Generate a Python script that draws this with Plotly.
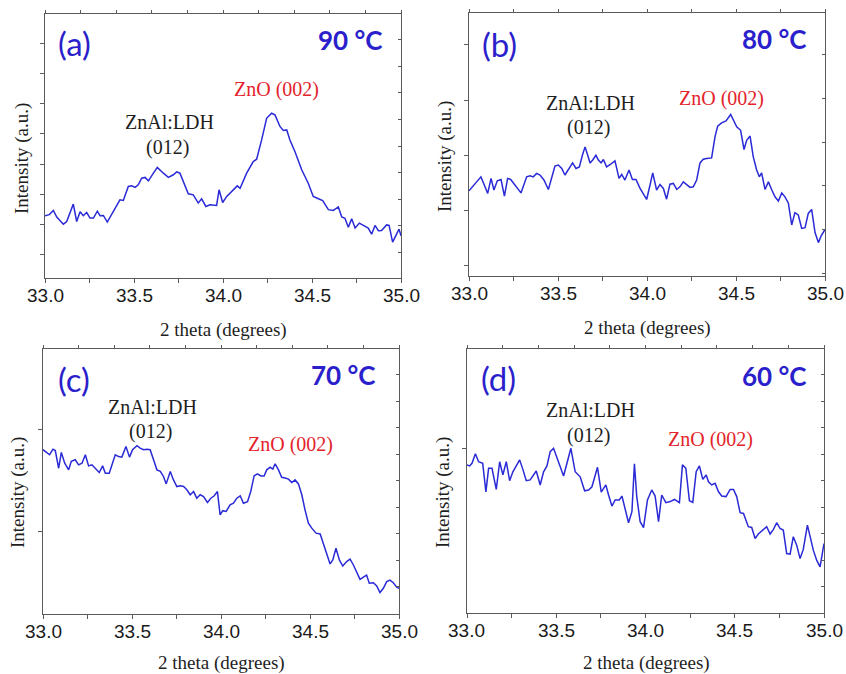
import plotly.graph_objects as go

# ---------------- data ----------------
theta_a = [33.000, 33.024, 33.047, 33.066, 33.103, 33.122, 33.159, 33.178, 33.197, 33.215,
           33.234, 33.253, 33.272, 33.294, 33.309, 33.328, 33.350, 33.384, 33.421, 33.440,
           33.468, 33.487, 33.506, 33.524, 33.543, 33.562, 33.581, 33.609, 33.631, 33.665,
           33.693, 33.721, 33.740, 33.758, 33.783, 33.805, 33.833, 33.861, 33.880, 33.904,
           33.927, 33.964, 33.978, 33.998, 34.021, 34.058, 34.080, 34.096, 34.133, 34.170,
           34.189, 34.217, 34.245, 34.273, 34.292, 34.320, 34.339, 34.358, 34.376, 34.404,
           34.442, 34.479, 34.507, 34.536, 34.560, 34.592, 34.620, 34.648, 34.667, 34.685,
           34.704, 34.723, 34.742, 34.766, 34.788, 34.816, 34.835, 34.854, 34.873, 34.891,
           34.919, 34.933, 34.953, 34.976, 34.989, 35.000]
int_a = [23.6, 24.0, 25.6, 23.1, 20.4, 21.4, 28.0, 21.4, 25.1, 23.6,
         24.8, 22.7, 22.7, 25.3, 23.6, 23.7, 21.2, 25.1, 29.6, 29.4,
         34.7, 34.9, 34.3, 35.3, 37.8, 38.1, 36.8, 39.7, 41.9, 39.7,
         38.1, 39.1, 40.2, 39.7, 35.9, 31.9, 31.5, 28.4, 30.0, 27.1,
         27.7, 27.5, 33.4, 28.6, 30.9, 33.4, 34.9, 34.0, 39.7, 44.1,
         45.0, 52.3, 60.5, 62.4, 61.8, 57.4, 55.9, 56.1, 52.3, 47.9,
         41.0, 35.9, 30.9, 30.0, 29.3, 25.9, 25.6, 26.9, 23.1, 22.6,
         19.2, 22.4, 18.9, 20.8, 19.9, 18.9, 16.6, 19.9, 17.9, 18.0,
         20.1, 19.9, 13.6, 17.0, 18.5, 16.0]

theta_b = [33.000, 33.034, 33.067, 33.090, 33.105, 33.124, 33.140, 33.159, 33.180, 33.199,
           33.217, 33.234, 33.268, 33.292, 33.324, 33.343, 33.361, 33.380, 33.399, 33.421,
           33.446, 33.464, 33.483, 33.502, 33.521, 33.539, 33.558, 33.582, 33.601, 33.620,
           33.637, 33.652, 33.667, 33.680, 33.695, 33.713, 33.727, 33.742, 33.755, 33.773,
           33.796, 33.820, 33.843, 33.858, 33.876, 33.899, 33.918, 33.938, 33.961, 33.979,
           33.998, 34.017, 34.032, 34.054, 34.073, 34.092, 34.110, 34.129, 34.148, 34.167,
           34.185, 34.204, 34.223, 34.242, 34.260, 34.279, 34.298, 34.316, 34.335, 34.363,
           34.382, 34.397, 34.419, 34.444, 34.470, 34.489, 34.504, 34.526, 34.545, 34.560,
           34.579, 34.597, 34.616, 34.631, 34.644, 34.663, 34.682, 34.700, 34.719, 34.738,
           34.757, 34.775, 34.794, 34.813, 34.831, 34.850, 34.869, 34.888, 34.906, 34.925,
           34.944, 34.963, 34.978, 35.000]
int_b = [32.4, 35.2, 37.7, 33.9, 31.4, 37.1, 32.7, 36.2, 36.7, 30.4,
         37.1, 36.7, 33.9, 31.6, 37.7, 38.1, 37.7, 39.0, 38.4, 36.5,
         32.9, 37.7, 41.8, 42.2, 40.9, 38.4, 40.3, 43.0, 40.9, 41.5,
         45.9, 49.1, 45.9, 43.0, 44.1, 45.9, 44.1, 43.0, 44.3, 41.5,
         42.5, 43.8, 37.1, 38.6, 36.5, 40.3, 36.7, 36.7, 33.3, 31.4,
         29.1, 34.6, 39.2, 32.7, 34.8, 33.3, 29.2, 34.9, 35.2, 32.9,
         33.9, 35.8, 34.9, 33.7, 33.9, 36.5, 43.0, 44.4, 44.7, 44.9,
         52.9, 57.0, 58.2, 59.0, 61.4, 59.0, 56.7, 55.4, 48.1, 51.6,
         53.2, 45.3, 40.3, 37.7, 39.2, 32.9, 35.8, 32.9, 30.1, 28.5,
         31.6, 30.1, 27.8, 19.4, 24.1, 23.2, 18.1, 18.4, 23.8, 25.3,
         16.5, 12.7, 15.2, 17.7]

theta_c = [33.000, 33.019, 33.037, 33.056, 33.069, 33.088, 33.103, 33.122, 33.144, 33.159,
           33.181, 33.200, 33.219, 33.238, 33.256, 33.275, 33.294, 33.316, 33.335, 33.350,
           33.372, 33.387, 33.406, 33.425, 33.443, 33.466, 33.486, 33.503, 33.528, 33.546,
           33.565, 33.584, 33.602, 33.621, 33.640, 33.659, 33.677, 33.692, 33.715, 33.733,
           33.752, 33.771, 33.790, 33.808, 33.827, 33.846, 33.864, 33.883, 33.902, 33.924,
           33.943, 33.962, 33.980, 33.995, 34.010, 34.029, 34.051, 34.070, 34.089, 34.108,
           34.126, 34.149, 34.167, 34.186, 34.205, 34.224, 34.242, 34.257, 34.276, 34.291,
           34.304, 34.323, 34.341, 34.360, 34.379, 34.398, 34.416, 34.435, 34.454, 34.472,
           34.491, 34.510, 34.534, 34.557, 34.575, 34.594, 34.613, 34.628, 34.646, 34.665,
           34.684, 34.706, 34.725, 34.744, 34.762, 34.781, 34.800, 34.818, 34.833, 34.856,
           34.875, 34.893, 34.912, 34.931, 34.949, 34.968, 34.987, 35.000]
int_c = [62.0, 61.0, 60.1, 62.2, 61.7, 55.0, 61.0, 56.9, 54.4, 57.6,
         58.2, 56.3, 56.9, 60.1, 55.9, 56.3, 55.0, 53.4, 55.9, 53.1,
         53.1, 56.3, 60.1, 59.4, 59.2, 63.2, 59.2, 62.0, 63.5, 62.6,
         62.0, 62.2, 62.0, 58.2, 54.4, 53.8, 51.9, 49.1, 53.8, 50.6,
         48.1, 48.4, 48.1, 46.9, 45.0, 46.2, 43.7, 45.0, 44.3, 42.1,
         43.7, 44.6, 46.2, 37.4, 39.0, 38.7, 41.2, 41.8, 43.7, 44.6,
         41.8, 42.4, 46.2, 52.1, 52.9, 52.1, 52.1, 54.4, 55.4, 54.7,
         56.7, 54.4, 51.6, 51.3, 50.9, 49.6, 50.6, 49.1, 45.0, 39.3,
         34.3, 32.4, 30.5, 30.2, 26.7, 22.3, 18.9, 20.4, 24.8, 20.4,
         18.1, 19.8, 20.7, 18.5, 16.0, 13.1, 13.9, 14.7, 11.6, 11.8,
         10.6, 8.1, 9.7, 12.2, 12.8, 11.8, 10.1, 9.7]

theta_d = [33.000, 33.015, 33.028, 33.047, 33.065, 33.088, 33.106, 33.121, 33.140, 33.164,
           33.183, 33.201, 33.220, 33.239, 33.257, 33.295, 33.313, 33.332, 33.354, 33.388,
           33.410, 33.429, 33.448, 33.466, 33.485, 33.504, 33.541, 33.560, 33.582, 33.606,
           33.634, 33.659, 33.681, 33.700, 33.731, 33.752, 33.778, 33.793, 33.812, 33.830,
           33.853, 33.868, 33.886, 33.905, 33.924, 33.938, 33.951, 33.970, 33.989, 34.011,
           34.035, 34.054, 34.073, 34.091, 34.114, 34.138, 34.162, 34.190, 34.207, 34.226,
           34.246, 34.265, 34.284, 34.302, 34.321, 34.340, 34.353, 34.371, 34.390, 34.409,
           34.427, 34.451, 34.474, 34.493, 34.511, 34.530, 34.549, 34.576, 34.595, 34.614,
           34.632, 34.660, 34.679, 34.698, 34.716, 34.735, 34.754, 34.772, 34.791, 34.810,
           34.828, 34.847, 34.866, 34.884, 34.907, 34.925, 34.940, 34.959, 34.978, 35.000]
int_d = [56.1, 55.7, 56.7, 60.3, 57.3, 56.7, 45.9, 54.8, 54.8, 46.8,
         57.3, 52.3, 57.3, 50.1, 53.5, 58.0, 54.4, 50.1, 50.4, 53.8,
         48.5, 53.5, 55.7, 61.1, 62.4, 59.0, 51.9, 56.7, 62.4, 53.5,
         51.6, 46.3, 46.6, 47.8, 55.2, 45.8, 48.5, 44.7, 40.5, 42.8,
         42.8, 44.3, 39.6, 34.2, 38.4, 56.5, 44.1, 34.6, 32.3, 42.8,
         46.6, 44.3, 34.6, 44.7, 41.8, 42.2, 43.0, 41.8, 56.1, 54.8,
         42.5, 41.9, 53.5, 55.7, 50.6, 52.3, 49.7, 48.5, 49.1, 45.9,
         44.3, 44.1, 46.8, 46.8, 44.1, 38.0, 37.7, 32.7, 32.4, 28.2,
         29.9, 31.4, 32.7, 29.9, 31.6, 34.2, 32.0, 31.4, 22.5, 22.3,
         28.9, 25.7, 20.6, 24.1, 33.3, 28.2, 23.8, 20.0, 17.5, 26.3]

panel_labels = ["(a)", "(b)", "(c)", "(d)"]
temperatures = ["90 °C", "80 °C", "70 °C", "60 °C"]
ldh_label = "ZnAl:LDH"
ldh_index = "(012)"
zno_label = "ZnO (002)"
x_title = "2 theta (degrees)"
y_title = "Intensity (a.u.)"
x_tickvals = [33.0, 33.5, 34.0, 34.5, 35.0]
x_ticktext = ["33.0", "33.5", "34.0", "34.5", "35.0"]

thetas = [theta_a, theta_b, theta_c, theta_d]
ints = [int_a, int_b, int_c, int_d]

# ---------------- layout settings ----------------
W, H = 846, 674
# plot boxes in pixels: (left, right, top, bottom)
boxes = [(45, 401, 14, 278), (469, 825, 13, 276), (43, 399, 349, 614), (467, 824, 349, 613)]
# label positions in data coords (x, y)
pos_panel = [(33.165, 88.9), (33.170, 88.4), (33.176, 88.7), (33.175, 89.0)]
pos_temp = [(34.715, 90.2), (34.712, 90.3), (34.688, 90.3), (34.718, 89.6)]
pos_ldh = [(33.702, 59.0), (33.684, 65.8), (33.614, 78.3), (33.690, 77.0)]
pos_idx = [(33.687, 49.4), (33.672, 56.5), (33.604, 68.9), (33.679, 67.2)]
pos_zno = [(34.298, 71.5), (34.419, 67.5), (34.390, 64.1), (34.364, 65.9)]
left_ticks = [(8.8, 11.44), (3.9, 21.0), (31.1, 38.4), (62.4, 80.0)]
right_ticks = [(9.7, 10.07), (17.7, 16.6), (10.3, 10.0), (9.9, 10.05)]
top_dtick = [0.2, 0.25, 0.2, 0.2]
xtitle_pos = [(223, 330), (647, 328), (221, 663), (646, 663)]
ytitle_pos = [(22, 159), (445, 157), (18, 493), (443, 493)]

BLUE_TXT = "#2b1fcc"
LINE = "#2a2ad6"
RED = "#e3232b"
AXC = "#5a5a5a"
SERIF = "Liberation Serif, serif"
SANS = "Liberation Sans, sans-serif"
LABF = "Lato, sans-serif"

fig = go.Figure()
layout = dict(width=W, height=H, autosize=False, margin=dict(l=0, r=0, t=0, b=0),
              paper_bgcolor="white", plot_bgcolor="white", showlegend=False,
              font=dict(family=SERIF))
annotations = []

for i in range(4):
    n = i + 1
    m = i + 5
    l, r, t, b = boxes[i]
    xd = [l / W, r / W]
    yd = [(H - b) / H, (H - t) / H]
    xs = "" if n == 1 else str(n)
    ys = "" if n == 1 else str(n)

    fig.add_trace(go.Scatter(x=thetas[i], y=ints[i], mode="lines",
                             line=dict(color=LINE, width=1.5),
                             xaxis="x" + xs, yaxis="y" + ys, hoverinfo="skip"))
    # invisible copy to activate the overlay (top/right) axes
    fig.add_trace(go.Scatter(x=thetas[i], y=ints[i], mode="lines", opacity=0,
                             line=dict(width=0.1), xaxis="x" + str(m), yaxis="y" + str(m),
                             hoverinfo="skip"))

    layout["xaxis" + xs] = dict(domain=xd, anchor="y" + ys, range=[33, 35],
                                showline=True, mirror=True, linecolor=AXC, linewidth=1.2,
                                showgrid=False, zeroline=False,
                                tickmode="linear", tick0=33.0, dtick=0.25,
                                ticks="outside", ticklen=4, tickwidth=1, tickcolor=AXC,
                                showticklabels=False)
    layout["yaxis" + ys] = dict(domain=yd, anchor="x" + xs, range=[0, 100],
                                showline=True, mirror=True, linecolor=AXC, linewidth=1.2,
                                showgrid=False, zeroline=False,
                                tickmode="linear", tick0=left_ticks[i][0], dtick=left_ticks[i][1],
                                ticks="outside", ticklen=4, tickwidth=1, tickcolor=AXC,
                                showticklabels=False)
    layout["xaxis" + str(m)] = dict(overlaying="x" + xs, anchor="y" + str(m), side="top",
                                    range=[33, 35], showline=False, showgrid=False,
                                    zeroline=False, tickmode="linear", tick0=33.0,
                                    dtick=top_dtick[i], ticks="outside", ticklen=3,
                                    tickwidth=1, tickcolor=AXC, showticklabels=False)
    layout["yaxis" + str(m)] = dict(overlaying="y" + ys, anchor="x" + str(m), side="right",
                                    range=[0, 100], showline=False, showgrid=False,
                                    zeroline=False, tickmode="linear", tick0=right_ticks[i][0],
                                    dtick=right_ticks[i][1], ticks="inside", ticklen=3,
                                    tickwidth=1, tickcolor=AXC, showticklabels=False)

    xr, yr = "x" + xs, "y" + ys
    for tv, tt in zip(x_tickvals, x_ticktext):
        annotations.append(dict(x=tv, y=0, xref=xr, yref=yr, text=tt, showarrow=False,
                                yanchor="top", xanchor="center", yshift=-5,
                                font=dict(family=SANS, size=19, color="#1a1a1a")))
    common = dict(xref=xr, yref=yr, showarrow=False, xanchor="center", yanchor="middle")
    annotations.append(dict(x=pos_panel[i][0], y=pos_panel[i][1], text=panel_labels[i],
                            font=dict(family=LABF, size=33, color=BLUE_TXT), **common))
    annotations.append(dict(x=pos_temp[i][0], y=pos_temp[i][1],
                            text="<b>" + temperatures[i] + "</b>",
                            font=dict(family=LABF, size=26, color=BLUE_TXT), **common))
    annotations.append(dict(x=pos_ldh[i][0], y=pos_ldh[i][1], text=ldh_label,
                            font=dict(family=SERIF, size=20, color="#1e1e1e"), **common))
    annotations.append(dict(x=pos_idx[i][0], y=pos_idx[i][1], text=ldh_index,
                            font=dict(family=SERIF, size=20, color="#1e1e1e"), **common))
    annotations.append(dict(x=pos_zno[i][0], y=pos_zno[i][1], text=zno_label,
                            font=dict(family=SERIF, size=20, color=RED), **common))
    annotations.append(dict(x=xtitle_pos[i][0] / W, y=(H - xtitle_pos[i][1]) / H,
                            xref="paper", yref="paper", text=x_title, showarrow=False,
                            xanchor="center", yanchor="middle",
                            font=dict(family=SERIF, size=19, color="#1e1e1e")))
    annotations.append(dict(x=ytitle_pos[i][0] / W, y=(H - ytitle_pos[i][1]) / H,
                            xref="paper", yref="paper", text=y_title, showarrow=False,
                            xanchor="center", yanchor="middle", textangle=-90,
                            font=dict(family=SERIF, size=19, color="#1e1e1e")))

layout["annotations"] = annotations
fig.update_layout(**layout)
fig.write_html("out.html")
